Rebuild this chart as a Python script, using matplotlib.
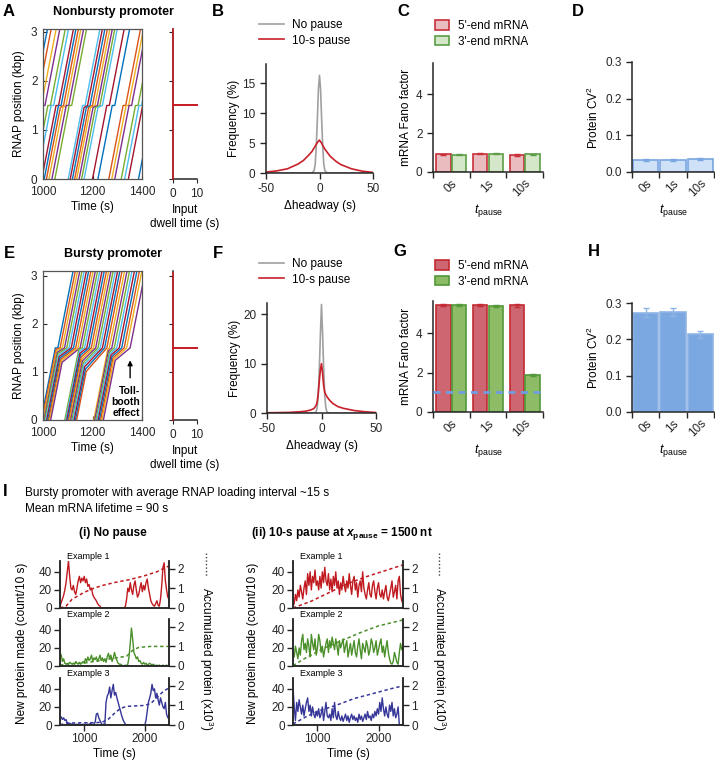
import numpy as np
import matplotlib
matplotlib.use('Agg')
import matplotlib.pyplot as plt
from matplotlib.patches import Patch
from matplotlib.lines import Line2D

plt.rcParams['font.family'] = ['Liberation Sans', 'DejaVu Sans']
plt.rcParams['font.size'] = 8
plt.rcParams['axes.unicode_minus'] = False
plt.rcParams['mathtext.fontset'] = 'custom'
plt.rcParams['mathtext.rm'] = 'Liberation Sans'
plt.rcParams['mathtext.it'] = 'Liberation Sans:italic'
plt.rcParams['mathtext.bf'] = 'Liberation Sans:bold'
plt.rcParams['mathtext.bfit'] = 'Liberation Sans:italic:bold'
plt.rcParams['axes.linewidth'] = 1.1
plt.rcParams['axes.edgecolor'] = '#262626'
plt.rcParams['xtick.color'] = '#262626'
plt.rcParams['ytick.color'] = '#262626'

# ---------------- data ----------------
# kymographs: RNAP start time (s), halt position (kbp), release time from pause site (s)
ELONG_RATE = 0.026   # kbp/s, from line slopes
PAUSE_SITE = 1.5     # kbp
A_start = [890, 905, 925, 940, 962, 975, 995, 1005, 1014, 1024,
           1036, 1048, 1102, 1110, 1119, 1128, 1136, 1146, 1156, 1166,
           1200, 1222, 1266, 1278, 1290, 1316, 1330, 1345, 1386]
A_halt = [1.5, 1.5, 1.5, 1.5, 1.5, 1.5, 1.5, 1.5, 1.46, 1.46,
          1.5, 1.5, 1.5, 1.46, 1.46, 1.46, 1.46, 1.46, 1.46, 1.46,
          1.5, 1.5, 1.5, 1.5, 1.5, 1.5, 1.5, 1.5, 1.5]
A_release = [958, 973, 993, 1008, 1030, 1043, 1063, 1073, 1083, 1093,
             1104, 1116, 1170, 1180, 1190, 1200, 1210, 1220, 1230, 1240,
             1268, 1290, 1334, 1346, 1358, 1384, 1398, 1413, 1454]

E_start = [992, 996, 1000, 1004, 1007, 1011, 1015, 1019, 1023, 1027, 1031,
           1088, 1092, 1096, 1100, 1104, 1108, 1112, 1117, 1121, 1126, 1131, 1136,
           1205, 1209, 1214, 1218, 1223, 1228, 1233, 1238, 1244]
E_halt = [1.5, 1.47, 1.44, 1.41, 1.38, 1.35, 1.32, 1.29, 1.26, 1.23, 1.2,
          1.47, 1.43, 1.39, 1.35, 1.31, 1.27, 1.23, 1.19, 1.15, 1.11, 1.06, 1.01,
          1.47, 1.44, 1.41, 1.38, 1.35, 1.32, 1.29, 1.26, 1.24]
E_release = [1060, 1069, 1078, 1087, 1096, 1105, 1114, 1123, 1132, 1141, 1150,
             1159, 1168, 1177, 1186, 1195, 1204, 1213, 1222, 1231, 1240, 1249, 1258,
             1268, 1278, 1288, 1298, 1308, 1318, 1328, 1338, 1352]

dwell_pos = [0, 1.5, 1.5, 1.5, 3.06]
dwell_time = [0, 0, 10, 0, 0]

# headway distributions
B_x = [-50, -40, -30, -20, -15, -10, -7, -5, -4, -3, -2, -1, 0, 1, 2, 3, 4, 5, 7, 10, 15, 20, 30, 40, 50]
B_nopause = [0, 0, 0, 0, 0, 0, 0, 0.4, 1.5, 4.5, 9, 14, 16.3, 14, 9, 4.5, 1.5, 0.4, 0, 0, 0, 0, 0, 0, 0]
B_pause = [0.15, 0.35, 0.7, 1.5, 2.1, 3.0, 3.6, 4.2, 4.5, 4.8, 5.1, 5.3, 5.5, 5.2, 5.0, 4.6, 4.3, 4.0, 3.5, 2.8, 2.0, 1.4, 0.7, 0.3, 0.1]
F_nopause = [0, 0, 0, 0, 0, 0, 0, 0.2, 1, 3.5, 9, 16, 22, 16, 9, 3.5, 1, 0.2, 0, 0, 0, 0, 0, 0, 0]
F_pause = [0.05, 0.08, 0.12, 0.25, 0.35, 0.6, 0.9, 1.5, 2.2, 4.0, 6.5, 8.8, 10, 8, 5.5, 4.2, 3.7, 3.3, 2.7, 2.0, 1.3, 0.95, 0.5, 0.25, 0.1]

# Fano factors and protein CV^2
t_pause_labels = ['0s', '1s', '10s']
C_fano5 = [0.90, 0.94, 0.87]
C_fano5_err = [0.03, 0.03, 0.03]
C_fano3 = [0.89, 0.93, 0.92]
C_fano3_err = [0.03, 0.03, 0.03]
G_fano5 = [5.45, 5.45, 5.42]
G_fano5_err = [0.06, 0.06, 0.07]
G_fano3 = [5.45, 5.40, 1.88]
G_fano3_err = [0.06, 0.06, 0.03]
D_cv2 = [0.033, 0.033, 0.036]
D_cv2_err = [0.002, 0.002, 0.002]
H_cv2 = [0.273, 0.275, 0.214]
H_cv2_err = [0.012, 0.012, 0.010]

# protein production traces (count / 10 s), sampled every 20 s from 600 s to 2400 s
trace_t = np.arange(600, 2401, 20)
nopause_ex1 = [2, 6, 10, 14, 20, 28, 40, 52, 35, 22,
               20, 25, 18, 15, 22, 30, 35, 28, 33, 30,
               35, 28, 32, 24, 26, 20, 22, 15, 12, 10,
               8, 5, 3, 2, 0, 0, 0, 0, 0, 0,
               0, 0, 0, 0, 0, 0, 0, 0, 0, 0,
               0, 0, 0, 0, 2, 10, 22, 18, 28, 20,
               15, 25, 30, 20, 12, 15, 22, 28, 18, 25,
               20, 28, 32, 22, 15, 8, 5, 3, 2, 5,
               8, 3, 2, 10, 25, 45, 50, 30, 20, 12, 10]
nopause_ex2 = [15, 12, 5, 8, 3, 2, 3, 2, 4, 3,
               2, 3, 2, 5, 3, 2, 4, 2, 3, 5,
               3, 8, 5, 10, 6, 8, 12, 5, 9, 7,
               10, 5, 8, 12, 6, 9, 5, 8, 4, 10,
               14, 8, 12, 5, 9, 15, 10, 6, 3, 2,
               2, 1, 0, 0, 1, 0, 2, 10, 25, 42,
               30, 15, 12, 8, 10, 5, 6, 3, 2, 4,
               2, 3, 1, 2, 3, 2, 1, 2, 1, 0,
               1, 0, 1, 0, 0, 1, 0, 0, 1, 0, 0]
nopause_ex3 = [8, 9, 6, 8, 5, 6, 2, 1, 2, 1,
               1, 0, 1, 0, 1, 0, 1, 0, 0, 1,
               0, 1, 0, 1, 0, 2, 1, 0, 1, 3,
               12, 13, 8, 5, 2, 0, 1, 0, 25, 32,
               35, 42, 30, 38, 45, 33, 36, 30, 25, 20,
               15, 10, 6, 3, 1, 0, 0, 0, 0, 0,
               0, 0, 0, 0, 0, 0, 0, 0, 0, 0,
               0, 5, 15, 25, 30, 35, 45, 38, 40, 30,
               35, 28, 22, 30, 25, 20, 18, 25, 12, 8, 10]
pause_ex1 = [2, 5, 15, 8, 20, 12, 25, 18, 10, 22,
             30, 15, 38, 25, 40, 20, 35, 28, 42, 25,
             30, 20, 35, 22, 40, 28, 45, 30, 25, 38,
             20, 32, 18, 35, 25, 40, 22, 30, 15, 28,
             20, 35, 25, 18, 30, 22, 38, 25, 15, 30,
             35, 20, 28, 12, 25, 30, 18, 40, 22, 15,
             10, 20, 28, 15, 12, 25, 30, 18, 10, 22,
             28, 15, 12, 20, 10, 18, 25, 12, 8, 15,
             22, 30, 12, 18, 25, 10, 30, 35, 15, 8, 5]
pause_ex2 = [18, 10, 22, 15, 8, 20, 12, 28, 35, 18,
             25, 15, 30, 22, 10, 35, 25, 18, 30, 12,
             20, 35, 28, 15, 22, 10, 18, 25, 30, 15,
             28, 20, 32, 25, 18, 30, 22, 12, 28, 20,
             25, 30, 15, 22, 28, 10, 18, 25, 12, 20,
             28, 15, 10, 22, 30, 18, 8, 25, 20, 15,
             28, 22, 12, 18, 30, 25, 15, 20, 28, 12,
             18, 25, 30, 15, 22, 10, 20, 28, 15, 8,
             3, 2, 5, 15, 10, 4, 2, 15, 25, 18, 20]
pause_ex3 = [42, 20, 5, 25, 15, 28, 20, 12, 22, 10,
             18, 25, 30, 15, 22, 10, 20, 12, 8, 15,
             10, 18, 8, 12, 20, 5, 15, 25, 10, 8,
             12, 5, 18, 8, 25, 10, 6, 15, 8, 5,
             10, 4, 8, 12, 5, 10, 3, 8, 12, 6,
             10, 5, 8, 3, 12, 6, 10, 4, 8, 12,
             6, 15, 8, 10, 5, 12, 8, 15, 10, 18,
             12, 25, 15, 30, 18, 10, 20, 12, 8, 22,
             15, 25, 10, 18, 8, 12, 20, 0, 0, 0, 0]

# accumulated protein (x10^3)
acc_np1_t = [600, 700, 800, 1000, 1150, 1300, 1500, 1750, 2000, 2200, 2400]
acc_np1 = [0, 0.1, 0.45, 0.8, 1.0, 1.15, 1.3, 1.45, 1.65, 1.85, 2.15]
acc_np2_t = [600, 700, 1000, 1300, 1600, 1700, 1800, 1900, 2100, 2400]
acc_np2 = [0.05, 0.1, 0.15, 0.3, 0.45, 0.5, 0.8, 0.95, 1.0, 1.0]
acc_np3_t = [600, 700, 1200, 1300, 1400, 1500, 1600, 1700, 2000, 2100, 2200, 2300, 2400]
acc_np3 = [0, 0.1, 0.12, 0.15, 0.3, 0.6, 0.85, 0.95, 1.0, 1.1, 1.4, 1.7, 1.9]
acc_p1_t = [600, 900, 1200, 1500, 1800, 2100, 2400]
acc_p1 = [0, 0.35, 0.8, 1.25, 1.6, 1.9, 2.2]
acc_p2_t = [600, 800, 1100, 1400, 1700, 2000, 2400]
acc_p2 = [0.02, 0.4, 0.9, 1.3, 1.7, 2.05, 2.35]
acc_p3_t = [600, 800, 1000, 1300, 1600, 1900, 2200, 2400]
acc_p3 = [0.05, 0.4, 0.7, 1.0, 1.35, 1.6, 1.85, 2.0]

# ---------------- styling ----------------
KYMO_COLORS = ['#0072BD', '#D95319', '#EDB120', '#7E2F8E', '#77AC30', '#4DBEEE', '#A2142F']
RED = '#c8202a'
GRAY = '#a0a0a0'
TRACE_RED = '#c01a20'
TRACE_GREEN = '#4a8f2a'
TRACE_BLUE = '#363699'

W, H = 715, 770
fig = plt.figure(figsize=(W / 100, H / 100), dpi=100)


def place(l, t, r, b):
    return fig.add_axes([l / W, 1 - b / H, (r - l) / W, (b - t) / H])


def ftext(x, y, s, **kw):
    fig.text(x / W, 1 - y / H, s, **kw)


def draw_kymo(ax, starts, halts, releases):
    for i, (t0, q, tr) in enumerate(zip(starts, halts, releases)):
        t_arr = t0 + q / ELONG_RATE
        ts = [t0, t_arr, tr, tr + (3.3 - PAUSE_SITE) / ELONG_RATE]
        xs = [0, q, PAUSE_SITE, 3.3]
        ax.plot(ts, xs, color=KYMO_COLORS[i % len(KYMO_COLORS)], lw=1.0)
    ax.set_xlim(1000, 1400)
    ax.set_xticks([1000, 1200, 1400])
    ax.set_yticks([0, 1, 2, 3])
    ax.tick_params(direction='in', length=3, labelsize=8.5, width=0.8)
    ax.tick_params(axis='x', pad=5)
    ax.tick_params(axis='y', pad=4)
    for s in ax.spines.values():
        s.set_color('#555555')
        s.set_linewidth(0.9)


def draw_dwell(ax, ylim):
    ax.plot(dwell_time, dwell_pos, color=RED, lw=1.2, clip_on=False, zorder=5)
    ax.set_xlim(0, 10)
    ax.set_ylim(*ylim)
    ax.set_xticks([0, 10])
    ax.set_yticks([0, 1, 2, 3])
    ax.set_yticklabels([])
    for s in ['top', 'right']:
        ax.spines[s].set_visible(False)
    ax.tick_params(direction='out', length=3, labelsize=8.5, width=0.8)


def draw_headway(ax, nopause, pause, ymax, yticks):
    ax.plot(B_x, nopause, color=GRAY, lw=1.2)
    ax.plot(B_x, pause, color=RED, lw=1.2)
    ax.set_xlim(-50, 50)
    ax.set_ylim(0, ymax)
    ax.set_xticks([-50, 0, 50])
    ax.set_yticks(yticks)
    for s in ['top', 'right']:
        ax.spines[s].set_visible(False)
    ax.tick_params(direction='out', length=4, labelsize=8.5, width=1)
    ax.set_ylabel('Frequency (%)', fontsize=8.5, labelpad=2)
    ax.set_xlabel('\u0394headway (s)', fontsize=8.5, labelpad=3)


def headway_legend(ax, x, y):
    handles = [Line2D([], [], color=GRAY, lw=1.2), Line2D([], [], color=RED, lw=1.2)]
    ax.legend(handles, ['No pause', '10-s pause'], loc='upper left',
              bbox_to_anchor=(x / W, 1 - y / H), bbox_transform=fig.transFigure,
              frameon=False, fontsize=8.5, handlelength=2.1, borderpad=0,
              borderaxespad=0, labelspacing=0.3, handletextpad=0.7)


def style_bar_axis(ax, ylabel):
    x = np.arange(3)
    ax.set_xlim(-0.5, 2.5)
    ax.set_xticks(x)
    ax.set_xticklabels(t_pause_labels)
    ax.set_xticks([-0.5, 0.5, 1.5, 2.5], minor=True)
    ax.tick_params(axis='x', which='major', length=0, pad=4, labelsize=8.5)
    ax.tick_params(axis='x', which='minor', length=4, width=1, direction='out')
    ax.tick_params(axis='y', direction='out', length=4, width=1, labelsize=8.5)
    for lab in ax.get_xticklabels():
        lab.set_rotation(45)
        lab.set_ha('right')
        lab.set_va('top')
        lab.set_rotation_mode('anchor')
    for s in ['top', 'right']:
        ax.spines[s].set_visible(False)
    ax.set_ylabel(ylabel, fontsize=8.5, labelpad=3)
    ax.set_xlabel(r'$t_{\rm pause}$', fontsize=9, labelpad=2)


def draw_fano(ax, f5, e5, f3, e3, face5, edge5, face3, edge3, ymax):
    x = np.arange(3)
    ax.bar(x - 0.215, f5, 0.39, yerr=e5, color=face5, edgecolor=edge5, lw=1.2,
           error_kw=dict(ecolor=edge5, elinewidth=1, capsize=2, capthick=1))
    ax.bar(x + 0.215, f3, 0.39, yerr=e3, color=face3, edgecolor=edge3, lw=1.2,
           error_kw=dict(ecolor=edge3, elinewidth=1, capsize=2, capthick=1))
    ax.set_ylim(0, ymax)
    ax.set_yticks([0, 2, 4])
    style_bar_axis(ax, 'mRNA Fano factor')


def fano_legend(ax, x, y, face5, edge5, face3, edge3):
    handles = [Patch(facecolor=face5, edgecolor=edge5, lw=1.2),
               Patch(facecolor=face3, edgecolor=edge3, lw=1.2)]
    ax.legend(handles, ["5'-end mRNA", "3'-end mRNA"], loc='upper left',
              bbox_to_anchor=(x / W, 1 - y / H), bbox_transform=fig.transFigure,
              frameon=False, fontsize=8.5, handlelength=1.15, handleheight=0.85,
              borderpad=0, borderaxespad=0, labelspacing=0.32, handletextpad=0.8)


def draw_cv2(ax, vals, errs, face, edge):
    x = np.arange(3)
    ax.bar(x, vals, 0.93, yerr=errs, color=face, edgecolor=edge, lw=1.2,
           error_kw=dict(ecolor=edge, elinewidth=1, capsize=2, capthick=1))
    ax.set_ylim(0, 0.3)
    ax.set_yticks([0, 0.1, 0.2, 0.3])
    ax.set_yticklabels(['0.0', '0.1', '0.2', '0.3'])
    style_bar_axis(ax, 'Protein CV$^2$')


def draw_trace(ax, trace, acc_t, acc, color, name, bottom):
    ax.plot(trace_t, trace, color=color, lw=1.0)
    ax.set_xlim(600, 2400)
    ax.set_ylim(0, 52)
    ax.set_yticks([0, 20, 40])
    ax.set_xticks([1000, 2000])
    ax.tick_params(direction='out', length=4, width=1, labelsize=8.5, pad=2)
    if not bottom:
        ax.tick_params(axis='x', length=0, labelbottom=False)
    ax.spines['top'].set_visible(False)
    ax2 = ax.twinx()
    ax2.plot(acc_t, acc, color=color, lw=1.1, ls=(0, (2.2, 1.8)))
    ax2.set_ylim(0, 2.4)
    ax2.set_yticks([0, 1, 2])
    ax2.tick_params(direction='out', length=4, width=1, labelsize=8.5, pad=2)
    ax2.spines['top'].set_visible(False)
    ax.text(0.06, 1.0, name, transform=ax.transAxes, fontsize=6.5, va='bottom', ha='left')


# ---------------- panel A ----------------
axA = place(43, 29, 142, 179)
draw_kymo(axA, A_start, A_halt, A_release)
axA.set_ylim(0, 3.06)
axA.set_ylabel('RNAP position (kbp)', fontsize=8.5, labelpad=4)
axA.set_xlabel('Time (s)', fontsize=8.5, labelpad=2)
axAi = place(173, 29, 197, 179)
draw_dwell(axAi, (0, 3.06))
axAi.set_xlabel('Input\ndwell time (s)', fontsize=8.5, labelpad=3, linespacing=1.2)

# ---------------- panel E ----------------
axE = place(43, 271, 142, 420)
draw_kymo(axE, E_start, E_halt, E_release)
axE.set_ylim(0, 3.1)
axE.set_ylabel('RNAP position (kbp)', fontsize=8.5, labelpad=4)
axE.set_xlabel('Time (s)', fontsize=8.5, labelpad=2)
axE.annotate('', xy=(1352, 1.3), xytext=(1352, 0.82),
             arrowprops=dict(arrowstyle='-|>', color='black', lw=1, mutation_scale=7))
axE.text(1394, 0.38, 'Toll-\nbooth\neffect', ha='right', va='center', fontsize=7.5,
         fontweight='bold', linespacing=1.15,
         bbox=dict(facecolor='white', edgecolor='none', pad=0.6))
axEi = place(173, 271, 197, 420)
draw_dwell(axEi, (0, 3.1))
axEi.set_xlabel('Input\ndwell time (s)', fontsize=8.5, labelpad=3, linespacing=1.2)

# ---------------- panels B, F ----------------
axB = place(266, 64, 373, 173)
draw_headway(axB, B_nopause, B_pause, 18.2, [0, 5, 10, 15])
headway_legend(axB, 259, 19)
axF = place(267, 303, 376, 413)
draw_headway(axF, F_nopause, F_pause, 22.3, [0, 10, 20])
headway_legend(axF, 259, 258)

# ---------------- panels C, G ----------------
C_face5, C_edge5, C_face3, C_edge3 = '#e9bcc0', '#c9303a', '#d4e7c9', '#5c9d45'
G_face5, G_edge5, G_face3, G_edge3 = '#cd6670', '#c32a33', '#8dbb66', '#52983a'
axC = place(433, 63, 543, 172)
draw_fano(axC, C_fano5, C_fano5_err, C_fano3, C_fano3_err, C_face5, C_edge5, C_face3, C_edge3, 5.6)
fano_legend(axC, 435, 20, C_face5, C_edge5, C_face3, C_edge3)
axG = place(433, 301, 543, 412)
axG.axhline(1, color='#6f9de0', lw=2, ls=(0, (2.5, 2)), zorder=5)
draw_fano(axG, G_fano5, G_fano5_err, G_fano3, G_fano3_err, G_face5, G_edge5, G_face3, G_edge3, 5.64)
fano_legend(axG, 435, 260, G_face5, G_edge5, G_face3, G_edge3)

# ---------------- panels D, H ----------------
axD = place(632, 62, 714, 172)
draw_cv2(axD, D_cv2, D_cv2_err, '#cfe1f7', '#79a5e2')
axH = place(632, 303, 714, 412)
draw_cv2(axH, H_cv2, H_cv2_err, '#7ba8e1', '#8fb4e6')

# ---------------- panel I ----------------
rows = [(561, 608), (619, 666), (678, 725)]
left_traces = [(nopause_ex1, acc_np1_t, acc_np1, TRACE_RED),
               (nopause_ex2, acc_np2_t, acc_np2, TRACE_GREEN),
               (nopause_ex3, acc_np3_t, acc_np3, TRACE_BLUE)]
right_traces = [(pause_ex1, acc_p1_t, acc_p1, TRACE_RED),
                (pause_ex2, acc_p2_t, acc_p2, TRACE_GREEN),
                (pause_ex3, acc_p3_t, acc_p3, TRACE_BLUE)]
for k, ((top, bot), lt, rt) in enumerate(zip(rows, left_traces, right_traces)):
    axl = place(60, top, 169, bot)
    draw_trace(axl, lt[0], lt[1], lt[2], lt[3], 'Example %d' % (k + 1), k == 2)
    axr = place(293, top, 403, bot)
    draw_trace(axr, rt[0], rt[1], rt[2], rt[3], 'Example %d' % (k + 1), k == 2)
    if k == 2:
        axl.set_xlabel('Time (s)', fontsize=8.5, labelpad=2)
        axr.set_xlabel('Time (s)', fontsize=8.5, labelpad=2)

for xc in (22, 253):
    ftext(xc, 643, 'New protein made (count/10 s)', rotation=90, ha='center', va='center', fontsize=8.5)
for xc in (206, 439):
    ftext(xc, 659, 'Accumulated protein (x10$^3$)', rotation=270, ha='center', va='center', fontsize=8.5)
    fig.add_artist(Line2D([xc / W, xc / W], [1 - 553 / H, 1 - 577 / H], color='#444444',
                          lw=1, ls=(0, (1, 1.5))))

ftext(25, 493, 'Bursty promoter with average RNAP loading interval ~15 s', fontsize=8.5, va='center')
ftext(25, 509, 'Mean mRNA lifetime = 90 s', fontsize=8.5, va='center')
ftext(113, 533, '(i) No pause', fontsize=8.5, fontweight='bold', ha='center', va='center')
ftext(342, 533, r'(ii) 10-s pause at $\mathbfit{x}_{\mathbf{pause}}$ = 1500 nt', fontsize=8.5,
      fontweight='bold', ha='center', va='center')

# ---------------- titles and panel letters ----------------
ftext(113, 12, 'Nonbursty promoter', fontsize=9, fontweight='bold', ha='center', va='center')
ftext(113, 254, 'Bursty promoter', fontsize=9, fontweight='bold', ha='center', va='center')
for letter, x, y in [('A', 9, 11), ('B', 218, 11), ('C', 403, 11), ('D', 578, 11),
                     ('E', 9, 253), ('F', 218, 253), ('G', 400, 252), ('H', 594, 252),
                     ('I', 5, 491)]:
    ftext(x, y, letter, fontsize=12, fontweight='bold', ha='center', va='center')

fig.savefig('out.png', dpi=100)
